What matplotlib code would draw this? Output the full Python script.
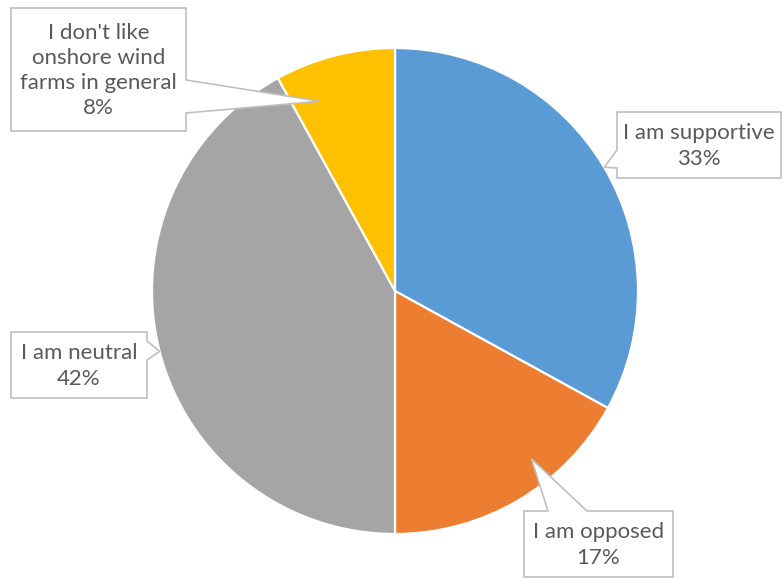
import numpy as np
import matplotlib
matplotlib.use("Agg")
import matplotlib.pyplot as plt
from matplotlib.patches import Polygon
from matplotlib.transforms import Affine2D

labels = ["I am supportive", "I am opposed", "I am neutral",
          "I don't like\nonshore wind\nfarms in general"]
shares = [33, 17, 42, 8]
colors = ["#5B9BD5", "#ED7D31", "#A5A5A5", "#FFC000"]

W, H = 782, 580
CX, CY, R = 395, 291, 243  # pie centre and radius in pixels

# callout layout: box (x0, y0, x1, y1), side of pointer, pointer base,
# tip angle offset from wedge middle (deg), tip radius
callouts = [
    ((617, 112, 781, 178), "left", (150, 168), 0.0, 1.0),
    ((524, 511, 673, 577), "top", (548, 587), 8.5, 0.89),
    ((11, 332, 147, 398), "right", (341, 360), 0.0, 1.0),
    ((11, 8, 186, 131), "right", (80, 113), 7.2, 0.84),
]

plt.rcParams["font.family"] = ["Lato", "DejaVu Sans"]
fig = plt.figure(figsize=(W / 100, H / 100), dpi=100)
ax = fig.add_axes([0, 0, 1, 1])

ax.pie(shares, colors=colors, startangle=90, counterclock=False, radius=1,
       wedgeprops=dict(edgecolor="white", linewidth=1.6))
ax.set_aspect("auto")
ax.set_xlim(-CX / R, (W - CX) / R)
ax.set_ylim(-(H - CY) / R, CY / R)
ax.axis("off")

pix = Affine2D().scale(1 / W, -1 / H).translate(0, 1) + fig.transFigure

angles = 90 - 360 * np.cumsum([0] + shares) / sum(shares)
for i, (box, side, base, dang, rtip) in enumerate(callouts):
    mid = np.radians((angles[i] + angles[i + 1]) / 2 + dang)
    tip = (CX + R * rtip * np.cos(mid), CY - R * rtip * np.sin(mid))
    x0, y0, x1, y1 = box
    a, b = base
    if side == "top":
        pts = [(x0, y0), (a, y0), tip, (b, y0), (x1, y0), (x1, y1), (x0, y1)]
    elif side == "right":
        pts = [(x0, y0), (x1, y0), (x1, a), tip, (x1, b), (x1, y1), (x0, y1)]
    else:
        pts = [(x0, y0), (x1, y0), (x1, y1), (x0, y1), (x0, b), tip, (x0, a)]
    ax.add_patch(Polygon(pts, closed=True, transform=pix, facecolor="white",
                         edgecolor="#BFBFBF", linewidth=1.2, zorder=5,
                         clip_on=False))
    ax.text((x0 + x1) / 2, (y0 + y1) / 2 + 1, f"{labels[i]}\n{shares[i]}%",
            transform=pix, ha="center", va="center", fontsize=16,
            color="#595959", linespacing=1.33, zorder=6)

fig.savefig("out.png", dpi=100)
